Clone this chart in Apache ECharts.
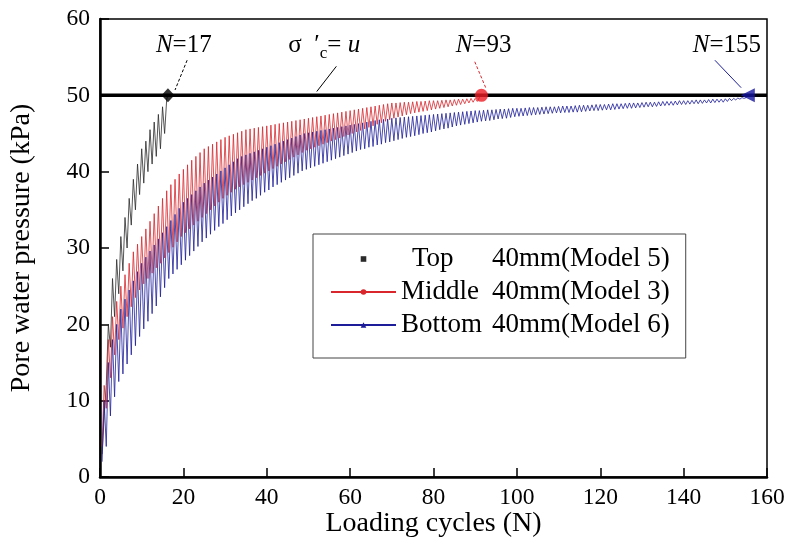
<!DOCTYPE html>
<html>
<head>
<meta charset="utf-8">
<script src="https://cdn.jsdelivr.net/npm/echarts@6/dist/echarts.min.js"></script>
<style>
  html, body { margin: 0; padding: 0; background: #fff; }
  #chart { width: 793px; height: 540px; }
</style>
</head>
<body>
<div id="chart"></div>
<script>
// peak / trough pore pressure of every loading cycle (kPa)
const topUpper = [8, 20, 26, 28.5, 31.5, 34, 36.5, 39, 41, 43, 44, 45.5, 46.5, 47.5, 48.5, 49.5];
const topLower = [3, 12, 17, 21, 24, 27, 30, 33, 35, 37, 38.5, 40, 41, 42, 43, 45];

const midUpper = [
  12, 18, 21, 23, 25, 26.5, 28, 29.5, 30.5, 31.5,
  32.5, 33.5, 34.5, 35.5, 36.5, 37.5, 38.3, 39, 39.7, 40.3,
  40.9, 41.5, 42, 42.5, 43, 43.3, 43.6, 43.9, 44.2, 44.5,
  44.7, 44.9, 45.1, 45.3, 45.5, 45.6, 45.7, 45.8, 45.9, 46,
  46.1, 46.2, 46.3, 46.4, 46.5, 46.6, 46.7, 46.8, 46.9, 47,
  47.1, 47.2, 47.3, 47.4, 47.5, 47.6, 47.7, 47.8, 47.9, 48,
  48.1, 48.2, 48.3, 48.4, 48.5, 48.6, 48.7, 48.8, 48.9, 49,
  49, 49.05, 49.1, 49.1, 49.15, 49.2, 49.2, 49.25, 49.3, 49.3,
  49.3, 49.35, 49.4, 49.4, 49.45, 49.5, 49.5, 49.55, 49.6, 49.6, 49.7
];
const midLower = [
  4, 9, 13, 16, 18, 19.5, 21, 22.3, 23.5, 24.5,
  25.3, 26, 26.7, 27.4, 28, 28.7, 29.4, 30.1, 30.8, 31.5,
  32, 32.5, 33, 33.5, 34, 34.5, 35, 35.5, 36, 36.5,
  36.9, 37.3, 37.7, 38, 38.3, 38.6, 38.9, 39.2, 39.5, 39.8,
  40.1, 40.4, 40.7, 41, 41.3, 41.6, 41.9, 42.2, 42.5, 42.8,
  43, 43.2, 43.4, 43.6, 43.8, 44, 44.2, 44.4, 44.6, 44.8,
  45, 45.2, 45.4, 45.6, 45.8, 46, 46.2, 46.4, 46.6, 46.8,
  47, 47.15, 47.3, 47.45, 47.6, 47.7, 47.8, 47.9, 48, 48.1,
  48.2, 48.3, 48.4, 48.5, 48.6, 48.7, 48.8, 48.9, 49, 49.1, 49.2
];

const botUpper = [
  10, 15, 18, 20, 22, 23.3, 24.5, 25.7, 26.9, 28,
  28.8, 29.6, 30.4, 31.2, 32, 32.8, 33.6, 34.4, 35.2, 36,
  36.5, 37, 37.5, 38, 38.5, 38.9, 39.3, 39.7, 40.1, 40.5,
  40.9, 41.3, 41.7, 42, 42.2, 42.4, 42.6, 42.8, 43, 43.2,
  43.4, 43.6, 43.8, 44, 44.2, 44.4, 44.6, 44.8, 45, 45.1,
  45.2, 45.3, 45.4, 45.5, 45.6, 45.7, 45.8, 45.9, 46, 46.1,
  46.2, 46.3, 46.4, 46.5, 46.6, 46.7, 46.8, 46.85, 46.9, 47,
  47.05, 47.1, 47.15, 47.2, 47.25, 47.3, 47.35, 47.4, 47.45, 47.5,
  47.55, 47.6, 47.65, 47.7, 47.75, 47.8, 47.85, 47.9, 47.95, 48,
  48, 48.05, 48.1, 48.1, 48.15, 48.2, 48.2, 48.25, 48.3, 48.3,
  48.3, 48.35, 48.4, 48.4, 48.4, 48.45, 48.5, 48.5, 48.5, 48.55,
  48.6, 48.6, 48.6, 48.65, 48.7, 48.7, 48.7, 48.75, 48.8, 48.8,
  48.8, 48.85, 48.9, 48.9, 48.9, 48.95, 49, 49, 49, 49.05,
  49.1, 49.1, 49.1, 49.15, 49.2, 49.2, 49.2, 49.25, 49.3, 49.3,
  49.3, 49.35, 49.4, 49.4, 49.4, 49.45, 49.5, 49.5, 49.5, 49.55,
  49.6, 49.6, 49.65, 49.7, 49.7
];
const botLower = [
  2, 4, 8, 10.5, 12.5, 13.5, 14.8, 16, 17.2, 18.4,
  19.4, 20.4, 21.4, 22.4, 23.6, 24.8, 26, 26.6, 27.2, 27.8,
  28.4, 29, 29.6, 30.2, 30.8, 31.3, 31.8, 32.3, 32.8, 33.2,
  33.7, 34.2, 34.6, 35, 35.4, 35.8, 36.2, 36.5, 36.9, 37.3,
  37.6, 38, 38.3, 38.6, 38.9, 39.2, 39.5, 39.8, 40.1, 40.3,
  40.5, 40.7, 40.9, 41.1, 41.3, 41.5, 41.7, 41.9, 42.1, 42.3,
  42.5, 42.7, 42.9, 43, 43.2, 43.3, 43.5, 43.6, 43.8, 43.9,
  44.05, 44.2, 44.35, 44.5, 44.6, 44.7, 44.85, 45, 45.1, 45.2,
  45.35, 45.5, 45.6, 45.7, 45.85, 46, 46.1, 46.2, 46.3, 46.4,
  46.5, 46.6, 46.65, 46.7, 46.8, 46.9, 46.95, 47, 47.1, 47.2,
  47.25, 47.3, 47.35, 47.4, 47.45, 47.5, 47.55, 47.6, 47.65, 47.7,
  47.7, 47.75, 47.75, 47.8, 47.8, 47.85, 47.9, 47.95, 48, 48,
  48.05, 48.1, 48.1, 48.15, 48.2, 48.25, 48.3, 48.3, 48.35, 48.4,
  48.45, 48.5, 48.5, 48.55, 48.6, 48.65, 48.7, 48.7, 48.75, 48.8,
  48.8, 48.85, 48.9, 48.9, 48.95, 49, 49, 49.05, 49.1, 49.1,
  49.2, 49.3, 49.4, 49.5, 49.6
];

// cycle where each layer reaches sigma'c = u
const failN = [16.3, 91.5, 155.4];
const failP = 50;

const seriesNames = ['Top', 'Middle', 'Bottom'];
const seriesDepth = ['40mm(Model 5)', '40mm(Model 3)', '40mm(Model 6)'];
const colors = ['#2a2a2a', '#d8262c', '#1d1d9a'];

const xTicks = [0, 20, 40, 60, 80, 100, 120, 140, 160];
const yTicks = [0, 10, 20, 30, 40, 50, 60];

// one cycle: trough half a cycle before the peak
const cycles = (upper, lower, endN) => {
  const pts = [];
  for (let i = 0; i < upper.length; i++) {
    pts.push([i + 0.5, lower[i]]);
    pts.push([i + 1, upper[i]]);
  }
  pts.push([endN, failP]);
  return pts;
};

const serif = 'Liberation Serif, Times New Roman, serif';
const chart = echarts.init(document.getElementById('chart'));

const arrow = (from, to, color, dashed) => [
  { coord: from, lineStyle: { color: color, width: 1, type: dashed ? [3, 2] : 'solid' } },
  { coord: to }
];

const note = (coord, text) => ({
  coord: coord,
  symbolSize: 0,
  label: { show: true, position: 'inside', formatter: text }
});

const option = {
  animation: false,
  grid: {
    left: 100, right: 26, top: 19, bottom: 63, outerBoundsMode: 'none',
    show: true, borderColor: '#000', borderWidth: 1.5
  },
  xAxis: {
    type: 'value', min: xTicks[0], max: xTicks[xTicks.length - 1], interval: 20,
    name: 'Loading cycles (N)', nameLocation: 'middle', nameGap: 33, nameMoveOverlap: false,
    nameTextStyle: { fontFamily: serif, fontSize: 28, color: '#000' },
    axisLine: { lineStyle: { color: '#000', width: 2.5 } },
    axisTick: { inside: true, length: 9, lineStyle: { color: '#000', width: 1.5 } },
    axisLabel: { fontFamily: serif, fontSize: 23.5, color: '#000', margin: 9 },
    splitLine: { show: false }
  },
  yAxis: {
    type: 'value', min: yTicks[0], max: yTicks[yTicks.length - 1], interval: 10,
    name: 'Pore water pressure (kPa)', nameLocation: 'middle', nameGap: 64, nameMoveOverlap: false,
    nameTextStyle: { fontFamily: serif, fontSize: 28, color: '#000' },
    axisLine: { lineStyle: { color: '#000', width: 2.5 } },
    axisTick: { inside: true, length: 9, lineStyle: { color: '#000', width: 1.5 } },
    axisLabel: { fontFamily: serif, fontSize: 23.5, color: '#000', margin: 10 },
    splitLine: { show: false }
  },
  legend: {
    orient: 'vertical', left: 313, top: 234,
    padding: [10, 16, 18, 17], itemGap: 3, itemWidth: 65, itemHeight: 7,
    borderColor: '#444', borderWidth: 1, backgroundColor: '#fff',
    data: [
      { name: 'Top', lineStyle: { opacity: 0 } },
      { name: 'Middle' },
      { name: 'Bottom' }
    ],
    formatter: name => {
      const i = seriesNames.indexOf(name);
      return (i === 0 ? '{t|' : '{a|') + name + '}{b|' + seriesDepth[i] + '}';
    },
    textStyle: {
      fontFamily: serif, fontSize: 27, color: '#000', lineHeight: 30,
      rich: {
        t: { fontFamily: serif, fontSize: 27, lineHeight: 30, width: 80, padding: [0, 0, 0, 11] },
        a: { fontFamily: serif, fontSize: 27, lineHeight: 30, width: 91 },
        b: { fontFamily: serif, fontSize: 27, lineHeight: 30 }
      }
    }
  },
  series: [
    {
      name: 'Top', type: 'line', data: cycles(topUpper, topLower, failN[0]),
      symbol: 'rect', showSymbol: false, color: colors[0],
      lineStyle: { width: 0.8, color: colors[0] }
    },
    {
      name: 'Middle', type: 'line', data: cycles(midUpper, midLower, failN[1]),
      symbol: 'circle', showSymbol: false, color: colors[1],
      lineStyle: { width: 0.8, color: colors[1] }
    },
    {
      name: 'Bottom', type: 'line', data: cycles(botUpper, botLower, failN[2]),
      symbol: 'triangle', showSymbol: false, color: colors[2],
      lineStyle: { width: 0.8, color: colors[2] }
    },
    {
      name: 'limit', type: 'line', data: [[xTicks[0], failP], [xTicks[xTicks.length - 1], failP]],
      showSymbol: false, lineStyle: { color: '#000', width: 3.5 }, z: 5,
      markLine: {
        silent: true, symbol: ['none', 'arrow'], symbolSize: [0, 9],
        label: { show: false },
        data: [
          arrow([20.9, 54.6], [18.0, 50.7], '#000', true),
          arrow([56.7, 53.8], [52.0, 50.5], '#000', false),
          arrow([89.9, 54.4], [92.6, 50.9], colors[1], true),
          arrow([147.5, 54.6], [153.8, 51.0], colors[2], false)
        ]
      },
      markPoint: {
        silent: true,
        label: {
          fontFamily: serif, fontSize: 25, color: '#000',
          rich: {
            i: { fontFamily: serif, fontSize: 25, fontStyle: 'italic' },
            r: { fontFamily: serif, fontSize: 25 },
            s: { fontFamily: serif, fontSize: 17, padding: [16, 0, 0, 0] }
          }
        },
        data: [
          note([20.1, 56.6], '{i|N}{r|=17}'),
          note([53.8, 56.5], '{r|σ  \u2032}{s|c}{r|= }{i|u}'),
          note([92.0, 56.6], '{i|N}{r|=93}'),
          note([150.4, 56.6], '{i|N}{r|=155}')
        ]
      }
    },
    {
      name: 'fail', type: 'scatter', z: 6,
      data: [
        { value: [failN[0], failP], symbol: 'diamond', symbolSize: [13, 14], itemStyle: { color: '#000' } },
        { value: [failN[1], failP], symbol: 'circle', symbolSize: 13, itemStyle: { color: '#ee1c24' } },
        { value: [failN[2], failP], symbol: 'triangle', symbolRotate: 90, symbolSize: 14, itemStyle: { color: '#1414a0' } }
      ]
    }
  ]
};

chart.setOption(option);
</script>
</body>
</html>
